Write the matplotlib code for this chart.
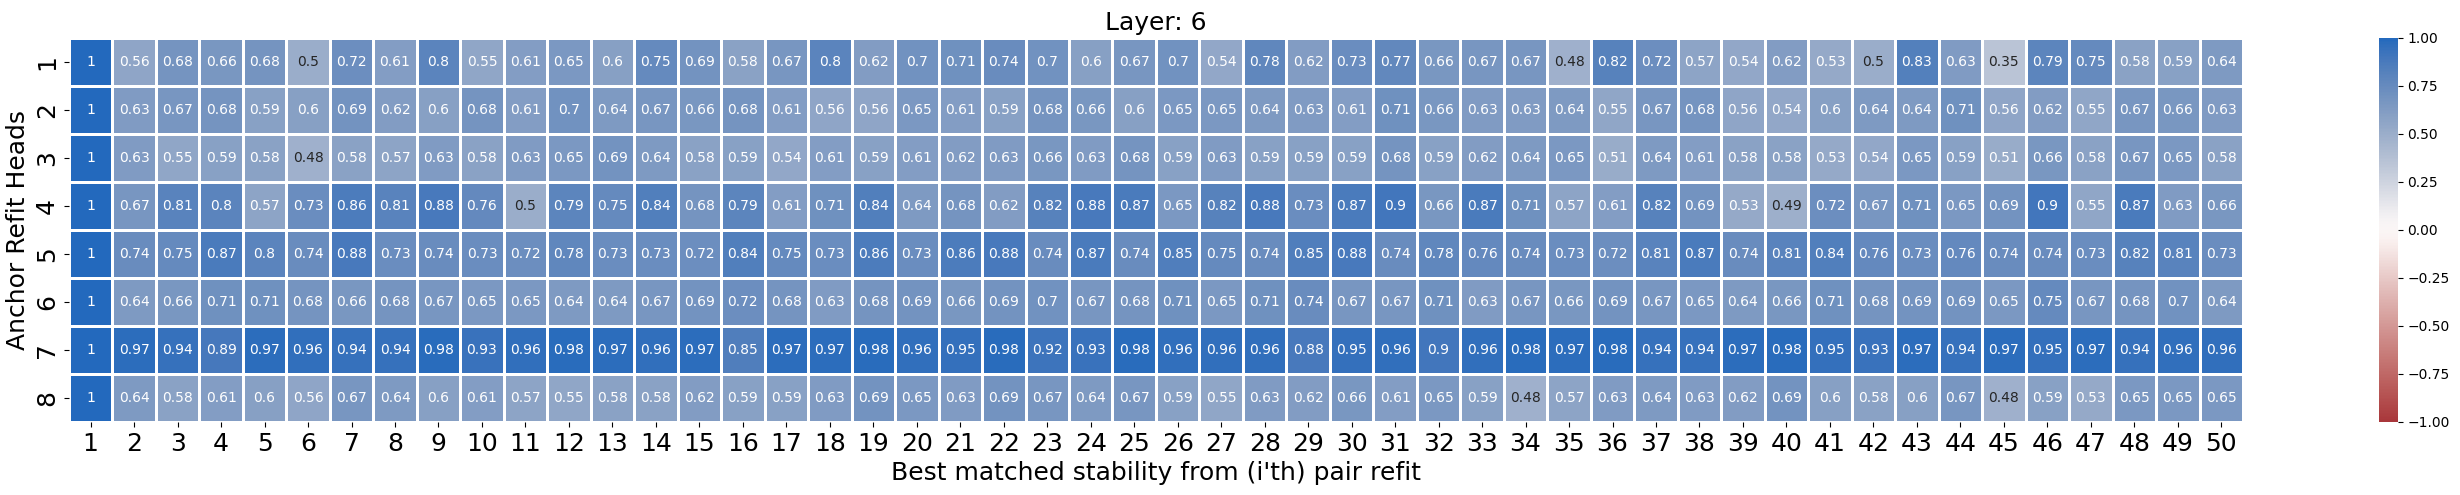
import numpy as np
import matplotlib
matplotlib.use('Agg')
import matplotlib.pyplot as plt
import seaborn as sns

layer = 6
heads = [1, 2, 3, 4, 5, 6, 7, 8]
refits = list(range(1, 51))

row1 = [1, 0.56, 0.68, 0.66, 0.68, 0.5, 0.72, 0.61, 0.8, 0.55, 0.61, 0.65, 0.6, 0.75, 0.69, 0.58, 0.67, 0.8, 0.62, 0.7,
        0.71, 0.74, 0.7, 0.6, 0.67, 0.7, 0.54, 0.78, 0.62, 0.73, 0.77, 0.66, 0.67, 0.67, 0.48, 0.82, 0.72, 0.57, 0.54, 0.62,
        0.53, 0.5, 0.83, 0.63, 0.35, 0.79, 0.75, 0.58, 0.59, 0.64]
row2 = [1, 0.63, 0.67, 0.68, 0.59, 0.6, 0.69, 0.62, 0.6, 0.68, 0.61, 0.7, 0.64, 0.67, 0.66, 0.68, 0.61, 0.56, 0.56, 0.65,
        0.61, 0.59, 0.68, 0.66, 0.6, 0.65, 0.65, 0.64, 0.63, 0.61, 0.71, 0.66, 0.63, 0.63, 0.64, 0.55, 0.67, 0.68, 0.56, 0.54,
        0.6, 0.64, 0.64, 0.71, 0.56, 0.62, 0.55, 0.67, 0.66, 0.63]
row3 = [1, 0.63, 0.55, 0.59, 0.58, 0.48, 0.58, 0.57, 0.63, 0.58, 0.63, 0.65, 0.69, 0.64, 0.58, 0.59, 0.54, 0.61, 0.59, 0.61,
        0.62, 0.63, 0.66, 0.63, 0.68, 0.59, 0.63, 0.59, 0.59, 0.59, 0.68, 0.59, 0.62, 0.64, 0.65, 0.51, 0.64, 0.61, 0.58, 0.58,
        0.53, 0.54, 0.65, 0.59, 0.51, 0.66, 0.58, 0.67, 0.65, 0.58]
row4 = [1, 0.67, 0.81, 0.8, 0.57, 0.73, 0.86, 0.81, 0.88, 0.76, 0.5, 0.79, 0.75, 0.84, 0.68, 0.79, 0.61, 0.71, 0.84, 0.64,
        0.68, 0.62, 0.82, 0.88, 0.87, 0.65, 0.82, 0.88, 0.73, 0.87, 0.9, 0.66, 0.87, 0.71, 0.57, 0.61, 0.82, 0.69, 0.53, 0.49,
        0.72, 0.67, 0.71, 0.65, 0.69, 0.9, 0.55, 0.87, 0.63, 0.66]
row5 = [1, 0.74, 0.75, 0.87, 0.8, 0.74, 0.88, 0.73, 0.74, 0.73, 0.72, 0.78, 0.73, 0.73, 0.72, 0.84, 0.75, 0.73, 0.86, 0.73,
        0.86, 0.88, 0.74, 0.87, 0.74, 0.85, 0.75, 0.74, 0.85, 0.88, 0.74, 0.78, 0.76, 0.74, 0.73, 0.72, 0.81, 0.87, 0.74, 0.81,
        0.84, 0.76, 0.73, 0.76, 0.74, 0.74, 0.73, 0.82, 0.81, 0.73]
row6 = [1, 0.64, 0.66, 0.71, 0.71, 0.68, 0.66, 0.68, 0.67, 0.65, 0.65, 0.64, 0.64, 0.67, 0.69, 0.72, 0.68, 0.63, 0.68, 0.69,
        0.66, 0.69, 0.7, 0.67, 0.68, 0.71, 0.65, 0.71, 0.74, 0.67, 0.67, 0.71, 0.63, 0.67, 0.66, 0.69, 0.67, 0.65, 0.64, 0.66,
        0.71, 0.68, 0.69, 0.69, 0.65, 0.75, 0.67, 0.68, 0.7, 0.64]
row7 = [1, 0.97, 0.94, 0.89, 0.97, 0.96, 0.94, 0.94, 0.98, 0.93, 0.96, 0.98, 0.97, 0.96, 0.97, 0.85, 0.97, 0.97, 0.98, 0.96,
        0.95, 0.98, 0.92, 0.93, 0.98, 0.96, 0.96, 0.96, 0.88, 0.95, 0.96, 0.9, 0.96, 0.98, 0.97, 0.98, 0.94, 0.94, 0.97, 0.98,
        0.95, 0.93, 0.97, 0.94, 0.97, 0.95, 0.97, 0.94, 0.96, 0.96]
row8 = [1, 0.64, 0.58, 0.61, 0.6, 0.56, 0.67, 0.64, 0.6, 0.61, 0.57, 0.55, 0.58, 0.58, 0.62, 0.59, 0.59, 0.63, 0.69, 0.65,
        0.63, 0.69, 0.67, 0.64, 0.67, 0.59, 0.55, 0.63, 0.62, 0.66, 0.61, 0.65, 0.59, 0.48, 0.57, 0.63, 0.64, 0.63, 0.62, 0.69,
        0.6, 0.58, 0.6, 0.67, 0.48, 0.59, 0.53, 0.65, 0.65, 0.65]

data = np.array([row1, row2, row3, row4, row5, row6, row7, row8])

fig = plt.figure(figsize=(24.6, 4.95), dpi=100)
ax = fig.add_axes([0.028, 0.1475, 0.8838, 0.776])
cax = fig.add_axes([0.967, 0.1475, 0.0077, 0.776])

sns.heatmap(data, ax=ax, cbar_ax=cax, cmap='vlag_r', vmin=-1, vmax=1, annot=True,
            annot_kws={'size': 10}, linewidths=1, linecolor='white',
            xticklabels=refits, yticklabels=heads)

ax.set_title('Layer: {}'.format(layer), fontsize=18)
ax.set_xlabel("Best matched stability from (i'th) pair refit", fontsize=18)
ax.set_ylabel('Anchor Refit Heads', fontsize=18)
ax.tick_params(axis='x', labelsize=18, rotation=0)
ax.tick_params(axis='y', labelsize=18)
cax.tick_params(labelsize=10)

fig.savefig('out.png', dpi=100)
